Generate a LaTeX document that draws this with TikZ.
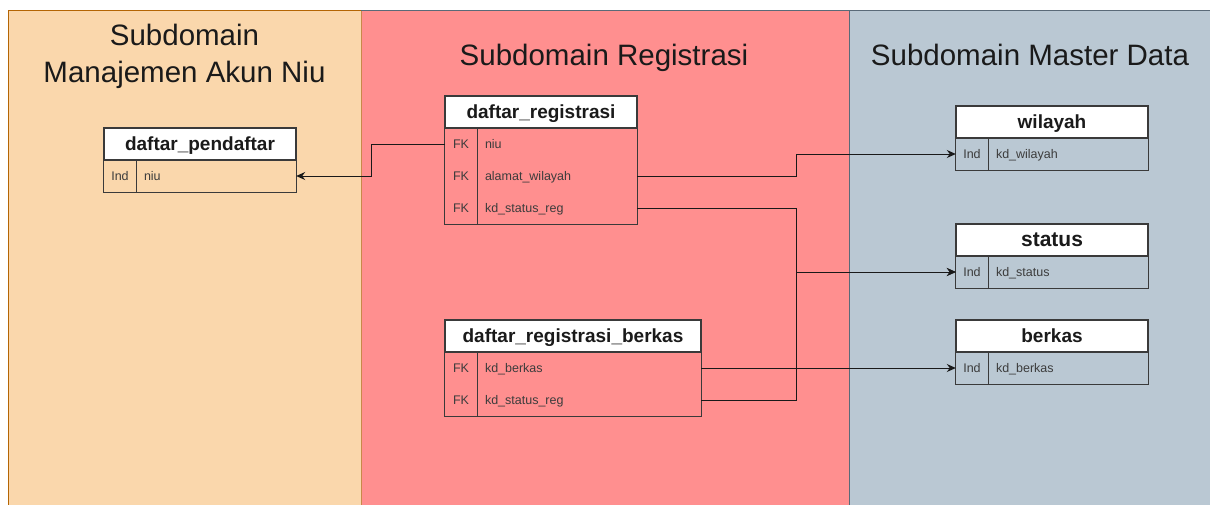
\documentclass[tikz,border=0pt]{standalone}
\usepackage{fontspec}
\setmainfont{Liberation Sans}
\usetikzlibrary{arrows.meta}

\definecolor{akunfill}{HTML}{FAD7AC}
\definecolor{akunline}{HTML}{B46504}
\definecolor{regfill}{HTML}{FF8F8F}
\definecolor{regline}{HTML}{C8884A}
\definecolor{masterfill}{HTML}{BAC8D3}
\definecolor{masterline}{HTML}{5A6A78}
\definecolor{ink}{HTML}{1A1A1A}
\definecolor{tline}{HTML}{3A3A3A}

\tikzset{
  panel/.style={line width=1pt},
  ptitle/.style={font=\fontsize{29.5}{37}\selectfont, text=ink, align=center, inner sep=0pt},
  hdr/.style={draw=tline, fill=white, line width=1.2pt, minimum height=32pt, inner sep=0pt,
    font=\bfseries\fontsize{19}{22}\selectfont, text=ink, text height=13.8pt, text depth=0pt},
  keycell/.style={minimum width=32pt, minimum height=32pt, inner sep=0pt,
    font=\fontsize{12.5}{14}\selectfont, text=ink!85, text height=9pt, text depth=0pt},
  valcell/.style={minimum height=32pt, inner xsep=8pt, inner ysep=0pt,
    align=left, font=\fontsize{12.5}{14}\selectfont, text=ink!85, text height=9pt, text depth=0pt},
  tframe/.style={draw=tline, line width=1.2pt},
  conn/.style={draw=black!90, line width=1pt, -{Stealth[length=9pt,width=8pt,inset=3pt]}},
}

\begin{document}
\begin{tikzpicture}[x=1pt, y=-1pt]
\useasboundingbox (0,0) rectangle (1210,504);
\clip (0,0) rectangle (1210,504);

% subdomain panels
\fill[white] (0,0) rectangle (1210,504);
\filldraw[panel, fill=akunfill, draw=akunline] (8,10) rectangle (361,520);
\filldraw[panel, fill=regfill, draw=regline] (361,10) rectangle (849,520);
\draw[panel, draw=masterline] (361,10) -- (849,10);
\filldraw[panel, fill=masterfill, draw=masterline] (849,10) rectangle (1220,520);

\node[ptitle, anchor=base] (t-akun1) at (184.5,45) {Subdomain};
\node[ptitle, anchor=base] (t-akun2) at (184.5,82) {Manajemen Akun Niu};
\node[ptitle, anchor=base] (t-reg) at (604,65) {Subdomain Registrasi};
\node[ptitle, anchor=base] (t-master) at (1030,65) {Subdomain Master Data};

% daftar_pendaftar
\node[hdr, minimum width=192pt] (dp) at (200,144) {daftar\_pendaftar};
\node[keycell] (dp-k1) at (120,176) {Ind};
\node[valcell, text width=144pt] (dp-v1) at (216,176) {niu};
\draw[tframe] (dp-k1.north west) rectangle (dp-v1.south east);
\draw[tframe] (dp-k1.north east) -- (dp-k1.south east);

% daftar_registrasi
\node[hdr, minimum width=192pt] (dr) at (541,112) {daftar\_registrasi};
\node[keycell] (dr-k1) at (461,144) {FK};
\node[valcell, text width=144pt] (dr-v1) at (557,144) {niu};
\node[keycell] (dr-k2) at (461,176) {FK};
\node[valcell, text width=144pt] (dr-v2) at (557,176) {alamat\_wilayah};
\node[keycell] (dr-k3) at (461,208) {FK};
\node[valcell, text width=144pt] (dr-v3) at (557,208) {kd\_status\_reg};
\draw[tframe] (dr-k1.north west) rectangle (dr-v3.south east);
\draw[tframe] (dr-k1.north east) -- (dr-k3.south east);

% daftar_registrasi_berkas
\node[hdr, minimum width=256pt] (drb) at (573,336) {daftar\_registrasi\_berkas};
\node[keycell] (drb-k1) at (461,368) {FK};
\node[valcell, text width=208pt] (drb-v1) at (589,368) {kd\_berkas};
\node[keycell] (drb-k2) at (461,400) {FK};
\node[valcell, text width=208pt] (drb-v2) at (589,400) {kd\_status\_reg};
\draw[tframe] (drb-k1.north west) rectangle (drb-v2.south east);
\draw[tframe] (drb-k1.north east) -- (drb-k2.south east);

% master data tables
\node[hdr, minimum width=192pt] (wl) at (1052,122) {wilayah};
\node[keycell] (wl-k) at (972,154) {Ind};
\node[valcell, text width=144pt] (wl-v) at (1068,154) {kd\_wilayah};
\draw[tframe] (wl-k.north west) rectangle (wl-v.south east);
\draw[tframe] (wl-k.north east) -- (wl-k.south east);

\node[hdr, minimum width=192pt, font=\bfseries\fontsize{21}{24}\selectfont] (st) at (1052,240) {status};
\node[keycell] (st-k) at (972,272) {Ind};
\node[valcell, text width=144pt] (st-v) at (1068,272) {kd\_status};
\draw[tframe] (st-k.north west) rectangle (st-v.south east);
\draw[tframe] (st-k.north east) -- (st-k.south east);

\node[hdr, minimum width=192pt] (bk) at (1052,336) {berkas};
\node[keycell] (bk-k) at (972,368) {Ind};
\node[valcell, text width=144pt] (bk-v) at (1068,368) {kd\_berkas};
\draw[tframe] (bk-k.north west) rectangle (bk-v.south east);
\draw[tframe] (bk-k.north east) -- (bk-k.south east);

% connectors
\coordinate (bus) at (796,0);
\coordinate (jog) at (371,0);
\draw[conn] (dr-k1.west) -- (dr-k1.west -| jog) |- (dp-v1.east);
\draw[conn] (dr-v2.east) -- (dr-v2.east -| bus) |- (wl-k.west);
\draw[conn] (dr-v3.east) -- (dr-v3.east -| bus) |- (st-k.west);
\draw[conn] (drb-v1.east) -- (bk-k.west);
\draw[conn] (drb-v2.east) -- (drb-v2.east -| bus) |- (st-k.west);
\end{tikzpicture}
\end{document}
